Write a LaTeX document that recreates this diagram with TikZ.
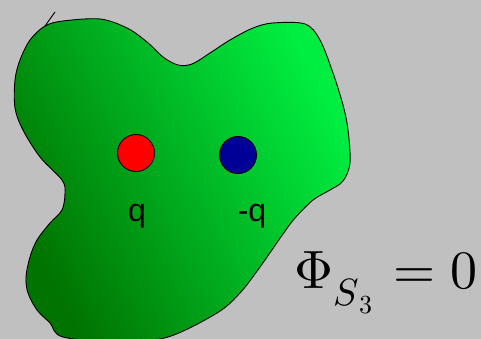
\documentclass[tikz,border=0pt]{standalone}
\usepackage{fontspec}
\usepackage{unicode-math}
\setmainfont{Liberation Serif}
\newfontfamily\lab{Liberation Sans}
\definecolor{bg}{RGB}{192,192,192}
\definecolor{gdark}{RGB}{0,115,0}
\definecolor{gbright}{RGB}{0,238,65}
\definecolor{chpos}{RGB}{255,0,0}
\definecolor{chneg}{RGB}{0,0,150}
\tikzset{
  charge/.style={circle, draw=black, line width=0.9pt, minimum size=37pt, inner sep=0pt},
  chlabel/.style={font=\lab\fontsize{32}{32}\selectfont, inner sep=0pt}
}
\begin{document}
\begin{tikzpicture}[x=1pt,y=-1pt]
\fill[bg] (0,0) rectangle (481,339);
\useasboundingbox (0,0) rectangle (481,339);
\shade[top color=gbright, bottom color=gdark, shading angle=-62, draw=black, line width=0.9pt]
  plot[smooth cycle, tension=0.55] coordinates {
  (45,26) (63,21) (100,19) (127,28) (147,42) (163,57) (178,65) (192,64) (210,53)
  (230,40) (253,28) (273,23) (305,24) (320,40) (333,73) (343,105) (348,130) (350,163)
  (343,181) (330,190) (313,200) (295,218) (283,234) (260,267) (240,293) (217,313)
  (168,337) (120,342) (63,337) (50,323) (37,310) (28,293) (26,277) (30,257) (37,240)
  (50,223) (62,210) (65,193) (62,180) (40,157) (23,130) (15,108) (15,80) (20,60) (30,40)};
\draw[line width=0.9pt] (45,26) -- (55,12);
\node[charge, fill=chpos] (pos) at (136,153) {};
\node[charge, fill=chneg] (neg) at (238,155) {};
\node[chlabel, anchor=base] (qpos) at (137,221) {q};
\node[chlabel, anchor=base] (qneg) at (252,221) {-q};
\node[anchor=base west, inner sep=0pt, font=\fontsize{54}{54}\selectfont] (flux) at (294,288)
  {$\Phi$\raisebox{-17pt}{\fontsize{38}{38}\selectfont$S$}\raisebox{-25pt}{\fontsize{26}{26}\selectfont\kern1pt$3$}\hspace{21pt}$=0$};
\end{tikzpicture}
\end{document}
